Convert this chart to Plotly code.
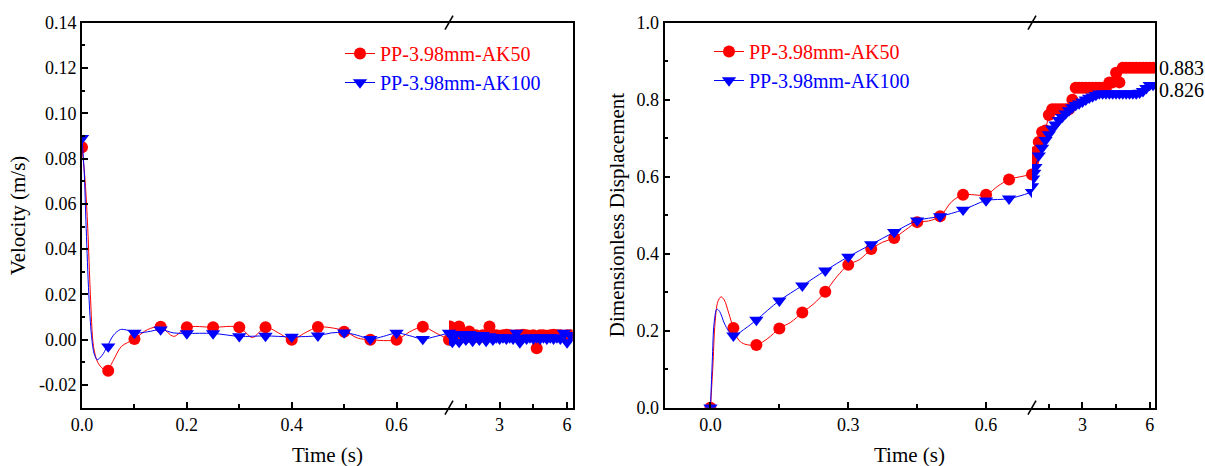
import plotly.graph_objects as go

FONT = "Liberation Serif"
RED = "#ff0000"
BLUE = "#0000ff"
NAME50 = "PP-3.98mm-AK50"
NAME100 = "PP-3.98mm-AK100"

# ---------------- Velocity (left panel) ----------------
# marker samples, first axis segment (0 - 0.7 s)
vel_t_mark = [0.0, 0.05, 0.1, 0.15, 0.2, 0.25, 0.3, 0.35, 0.4, 0.45, 0.5, 0.55, 0.6, 0.65, 0.7]
vel50_mark = [0.085, -0.0137, 0.0003, 0.0057, 0.0055, 0.0055, 0.0055, 0.0055, 0.0, 0.0056, 0.0035, 0.0, 0.0, 0.0057, 0.0]
vel100_mark = [0.089, -0.003, 0.003, 0.0045, 0.0028, 0.0028, 0.0015, 0.0017, 0.0013, 0.0018, 0.0032, 0.0003, 0.003, 0.0003, 0.003]

# curve samples, first axis segment
vel50_t_line = [0.0, 0.006, 0.011, 0.016, 0.022, 0.03, 0.04, 0.048, 0.06, 0.075, 0.1, 0.125, 0.15, 0.175, 0.2,
                0.25, 0.3, 0.325, 0.35, 0.375, 0.4, 0.425, 0.45, 0.475, 0.5, 0.525, 0.55, 0.6, 0.625, 0.65, 0.675, 0.7]
vel50_line = [0.085, 0.07, 0.049, 0.02, -0.003, -0.010, -0.0128, -0.0135, -0.009, -0.003, 0.0003, 0.0045, 0.0057, 0.0015, 0.0055,
              0.0055, 0.0055, 0.001, 0.0055, 0.003, 0.0, 0.003, 0.0056, 0.0053, 0.004, 0.0008, 0.0, 0.0, 0.0035, 0.0057, 0.003, 0.0]
vel100_t_line = [0.0, 0.004, 0.008, 0.013, 0.018, 0.023, 0.029, 0.038, 0.048, 0.06, 0.073, 0.085, 0.1, 0.125, 0.15, 0.175,
                 0.2, 0.25, 0.3, 0.35, 0.4, 0.45, 0.475, 0.5, 0.525, 0.55, 0.575, 0.6, 0.625, 0.65, 0.675, 0.7]
vel100_line = [0.089, 0.075, 0.049, 0.02, 0.002, -0.006, -0.0088, -0.007, -0.003, 0.002, 0.0045, 0.0043, 0.003, 0.0035, 0.0045, 0.003,
               0.0028, 0.0028, 0.0015, 0.0017, 0.0013, 0.0018, 0.003, 0.0032, 0.002, 0.0003, 0.0015, 0.003, 0.0018, 0.0003, 0.0015, 0.003]

# second axis segment (0.75 - 6.25 s)
t_seg2 = [0.75, 0.8, 0.85, 0.9, 1.05, 1.2, 1.35, 1.5, 1.65, 1.8, 1.95, 2.1, 2.25, 2.4, 2.55, 2.7, 2.85, 3.0, 3.15, 3.3,
          3.45, 3.6, 3.75, 3.9, 4.05, 4.2, 4.35, 4.5, 4.65, 4.8, 4.95, 5.1, 5.25, 5.4, 5.55, 5.7, 5.85, 6.0, 6.15]
vel50_seg2 = [0.0, 0.0059, 0.004, 0.002, 0.003, 0.0059, 0.002, 0.001, 0.0037, 0.002, 0.002, 0.001, 0.002, 0.002, 0.0059, 0.002,
              0.002, 0.0018, 0.002, 0.0022, 0.002, 0.0018, 0.002, 0.002, 0.0022, 0.002, 0.0018, 0.002, -0.0037, 0.002,
              0.002, 0.0018, 0.002, 0.0022, 0.002, 0.002, 0.0018, 0.002, 0.002]
vel100_seg2 = [0.003, 0.0, 0.002, -0.001, 0.0025, -0.001, 0.002, 0.0, 0.0025, -0.0005, 0.002, 0.0, 0.002, -0.0005, 0.0015,
               0.0, 0.001, 0.0005, 0.001, 0.0005, 0.001, 0.0005, 0.003, -0.0012, 0.0008, 0.0005, 0.001, 0.0005, 0.001,
               0.0005, 0.001, 0.0005, 0.001, 0.0005, 0.001, 0.0005, 0.003, -0.0012, 0.002]

# ---------------- Dimensionless displacement (right panel) ----------------
disp_t_mark = [0.0, 0.05, 0.1, 0.15, 0.2, 0.25, 0.3, 0.35, 0.4, 0.45, 0.5, 0.55, 0.6, 0.65, 0.7]
disp50_mark = [0.0, 0.207, 0.163, 0.206, 0.247, 0.301, 0.371, 0.412, 0.441, 0.482, 0.497, 0.553, 0.553, 0.593, 0.606]
disp100_mark = [0.0, 0.187, 0.228, 0.278, 0.317, 0.356, 0.392, 0.424, 0.456, 0.486, 0.497, 0.514, 0.538, 0.543, 0.56]

disp50_t_line = [0.0, 0.005, 0.01, 0.016, 0.023, 0.03, 0.04, 0.05, 0.062, 0.075, 0.1, 0.125, 0.15, 0.175, 0.2, 0.225,
                 0.25, 0.275, 0.3, 0.325, 0.35, 0.375, 0.4, 0.425, 0.45, 0.475, 0.5, 0.525, 0.55, 0.6, 0.625, 0.65, 0.675, 0.7]
disp50_line = [0.0, 0.1, 0.22, 0.275, 0.288, 0.28, 0.245, 0.207, 0.175, 0.165, 0.163, 0.18, 0.206, 0.222, 0.247, 0.27,
               0.301, 0.34, 0.371, 0.385, 0.412, 0.43, 0.441, 0.462, 0.482, 0.485, 0.497, 0.535, 0.553, 0.553, 0.575, 0.593, 0.6, 0.606]
disp100_t_line = [0.0, 0.004, 0.008, 0.014, 0.02, 0.03, 0.04, 0.05, 0.075, 0.1, 0.15, 0.2, 0.25, 0.3, 0.35, 0.4, 0.45,
                  0.5, 0.55, 0.6, 0.65, 0.7]
disp100_line = [0.0, 0.12, 0.22, 0.256, 0.25, 0.22, 0.198, 0.187, 0.205, 0.228, 0.278, 0.317, 0.356, 0.392, 0.424, 0.456,
                0.486, 0.497, 0.514, 0.538, 0.543, 0.56]

disp50_seg2 = [0.615, 0.64, 0.655, 0.664, 0.69, 0.716, 0.72, 0.76, 0.775, 0.775, 0.775, 0.775, 0.775, 0.775, 0.80, 0.831,
               0.831, 0.831, 0.831, 0.831, 0.831, 0.831, 0.831, 0.831, 0.831, 0.845, 0.845, 0.87, 0.845, 0.883,
               0.883, 0.883, 0.883, 0.883, 0.883, 0.883, 0.883, 0.883, 0.883]
disp100_seg2 = [0.575, 0.595, 0.61, 0.625, 0.655, 0.675, 0.695, 0.71, 0.725, 0.735, 0.747, 0.755, 0.764, 0.772, 0.78, 0.786,
                0.79, 0.795, 0.8, 0.805, 0.808, 0.812, 0.816, 0.816, 0.816, 0.816, 0.816, 0.816, 0.816, 0.816,
                0.816, 0.816, 0.816, 0.816, 0.818, 0.822, 0.83, 0.838, 0.838]

final_labels = ["0.883", "0.826"]
final_values = [0.883, 0.826]

# ---------------- figure ----------------
W, H = 1205, 466
CIRC = 12
TRI = 12.5
fig = go.Figure()


def add_series(xa, ya, t_line, v_line, t_mark, v_mark, t2, v2, xa2, ya2, color, symbol, size):
    fig.add_trace(go.Scatter(x=t_line, y=v_line, mode="lines", xaxis=xa, yaxis=ya,
                             line=dict(color=color, width=1, shape="spline", smoothing=0.9),
                             showlegend=False, hoverinfo="skip"))
    fig.add_trace(go.Scatter(x=t_mark, y=v_mark, mode="markers", xaxis=xa, yaxis=ya,
                             marker=dict(color=color, symbol=symbol, size=size, line=dict(width=0)),
                             showlegend=False))
    fig.add_trace(go.Scatter(x=t2, y=v2, mode="lines+markers", xaxis=xa2, yaxis=ya2,
                             line=dict(color=color, width=1),
                             marker=dict(color=color, symbol=symbol, size=size, line=dict(width=0)),
                             showlegend=False))


add_series("x", "y", vel50_t_line, vel50_line, vel_t_mark, vel50_mark, t_seg2, vel50_seg2, "x2", "y2", RED, "circle", CIRC)
add_series("x", "y", vel100_t_line, vel100_line, vel_t_mark, vel100_mark, t_seg2, vel100_seg2, "x2", "y2", BLUE, "triangle-down", TRI)
add_series("x3", "y3", disp50_t_line, disp50_line, disp_t_mark, disp50_mark, t_seg2, disp50_seg2, "x4", "y4", RED, "circle", CIRC)
add_series("x3", "y3", disp100_t_line, disp100_line, disp_t_mark, disp100_mark, t_seg2, disp100_seg2, "x4", "y4", BLUE, "triangle-down", TRI)

# legend entries
for xa, ya, lg in [("x", "y", "legend"), ("x3", "y3", "legend2")]:
    fig.add_trace(go.Scatter(x=[None], y=[None], mode="lines+markers", xaxis=xa, yaxis=ya, legend=lg,
                             name=f"<span style='color:{RED}'>{NAME50}</span>",
                             line=dict(color=RED, width=1), marker=dict(color=RED, symbol="circle", size=CIRC)))
    fig.add_trace(go.Scatter(x=[None], y=[None], mode="lines+markers", xaxis=xa, yaxis=ya, legend=lg,
                             name=f"<span style='color:{BLUE}'>{NAME100}</span>",
                             line=dict(color=BLUE, width=1), marker=dict(color=BLUE, symbol="triangle-down", size=TRI)))

# domains in pixels
ytop, ybot = 22.7, 407.7
ydom = [1 - ybot / H, 1 - ytop / H]
L1 = [82 / W, 449 / W]
L2 = [449 / W, 572.7 / W]
R1 = [664.5 / W, 1032 / W]
R2 = [1032 / W, 1155.3 / W]

tickfont = dict(family=FONT, size=18, color="black")
LW = 1.8
common_x = dict(showline=True, linecolor="black", linewidth=LW, mirror=True, ticks="inside", ticklen=6,
                tickwidth=1.5, tickcolor="black", showgrid=False, zeroline=False, tickfont=tickfont,
                automargin=False, tickmode="array")
minor_x = dict(ticks="inside", ticklen=3.5, tickwidth=1.5, tickcolor="black", showgrid=False)

fig.update_layout(
    width=W, height=H, margin=dict(l=0, r=0, t=0, b=0),
    paper_bgcolor="white", plot_bgcolor="white",
    font=dict(family=FONT, size=18, color="black"),
    xaxis=dict(domain=L1, range=[0, 0.7], anchor="y", tickvals=[0, 0.2, 0.4, 0.6],
               ticktext=["0.0", "0.2", "0.4", "0.6"], minor=dict(tickvals=[0.1, 0.3, 0.5], **minor_x), **common_x),
    xaxis2=dict(domain=L2, range=[0.75, 6.25], anchor="y2", tickvals=[3, 6], ticktext=["3", "6"],
                minor=dict(tickvals=[1.5, 4.5], **minor_x), **common_x),
    xaxis3=dict(domain=R1, range=[-0.1, 0.7], anchor="y3", tickvals=[0, 0.3, 0.6],
                ticktext=["0.0", "0.3", "0.6"], minor=dict(tickvals=[0.15, 0.45], **minor_x), **common_x),
    xaxis4=dict(domain=R2, range=[0.75, 6.25], anchor="y4", tickvals=[3, 6], ticktext=["3", "6"],
                minor=dict(tickvals=[1.5, 4.5], **minor_x), **common_x),
    yaxis=dict(domain=ydom, range=[-0.03, 0.14], anchor="x", showline=True, linecolor="black", linewidth=LW,
               ticks="inside", ticklen=6, tickwidth=1.5, tickcolor="black", showgrid=False, zeroline=False,
               tickmode="array", tickvals=[-0.02, 0, 0.02, 0.04, 0.06, 0.08, 0.1, 0.12, 0.14],
               ticktext=["-0.02", "0.00", "0.02", "0.04", "0.06", "0.08", "0.10", "0.12", "0.14"],
               minor=dict(tickvals=[-0.03, -0.01, 0.01, 0.03, 0.05, 0.07, 0.09, 0.11, 0.13], ticks="inside",
                          ticklen=3.5, tickwidth=1.5, tickcolor="black", showgrid=False),
               tickfont=tickfont, automargin=False),
    yaxis2=dict(domain=ydom, range=[-0.03, 0.14], anchor="x2", side="right", showline=True, linecolor="black",
                linewidth=LW, ticks="", showticklabels=False, showgrid=False, zeroline=False, automargin=False),
    yaxis3=dict(domain=ydom, range=[0, 1.0], anchor="x3", showline=True, linecolor="black", linewidth=LW,
                ticks="inside", ticklen=6, tickwidth=1.5, tickcolor="black", showgrid=False, zeroline=False,
                tickmode="array", tickvals=[0, 0.2, 0.4, 0.6, 0.8, 1.0],
                ticktext=["0.0", "0.2", "0.4", "0.6", "0.8", "1.0"],
                minor=dict(tickvals=[0.1, 0.3, 0.5, 0.7, 0.9], ticks="inside", ticklen=3.5, tickwidth=1.5,
                           tickcolor="black", showgrid=False),
                tickfont=tickfont, automargin=False),
    yaxis4=dict(domain=ydom, range=[0, 1.0], anchor="x4", side="right", showline=True, linecolor="black",
                linewidth=LW, ticks="", showticklabels=False, showgrid=False, zeroline=False, automargin=False),
    legend=dict(x=340 / W, y=1 - 34 / H, xanchor="left", yanchor="top", bgcolor="rgba(0,0,0,0)",
                font=dict(family=FONT, size=20), tracegroupgap=0, itemclick=False),
    legend2=dict(x=709 / W, y=1 - 32 / H, xanchor="left", yanchor="top", bgcolor="rgba(0,0,0,0)",
                 font=dict(family=FONT, size=20), tracegroupgap=0, itemclick=False),
)

# axis break marks (slashes across top and bottom frame at the break)
for bx in [L1[1], R1[1]]:
    for ya in ydom:
        fig.add_shape(type="line", xref="paper", yref="paper", xsizemode="pixel", ysizemode="pixel",
                      xanchor=bx, yanchor=ya, x0=-4, x1=4, y0=-7, y1=7,
                      line=dict(color="black", width=1.6))

# axis titles
title_font = dict(family=FONT, size=21, color="black")
fig.add_annotation(text="Time (s)", xref="paper", yref="paper", x=(L1[0] + L2[1]) / 2, y=1 - 455 / H,
                   showarrow=False, font=title_font, xanchor="center", yanchor="middle")
fig.add_annotation(text="Time (s)", xref="paper", yref="paper", x=(R1[0] + R2[1]) / 2, y=1 - 455 / H,
                   showarrow=False, font=title_font, xanchor="center", yanchor="middle")
fig.add_annotation(text="Velocity (m/s)", xref="paper", yref="paper", x=18 / W, y=(ydom[0] + ydom[1]) / 2,
                   showarrow=False, font=title_font, textangle=-90, xanchor="center", yanchor="middle")
fig.add_annotation(text="Dimensionless Displacement", xref="paper", yref="paper", x=617 / W,
                   y=(ydom[0] + ydom[1]) / 2, showarrow=False, font=title_font, textangle=-90,
                   xanchor="center", yanchor="middle")

# final value labels
for txt, val in zip(final_labels, final_values):
    fig.add_annotation(text=txt, xref="paper", yref="y4", x=1157 / W, y=val, showarrow=False,
                       font=dict(family=FONT, size=20, color="black"), xanchor="left", yanchor="middle")

fig.write_html("out.html")
